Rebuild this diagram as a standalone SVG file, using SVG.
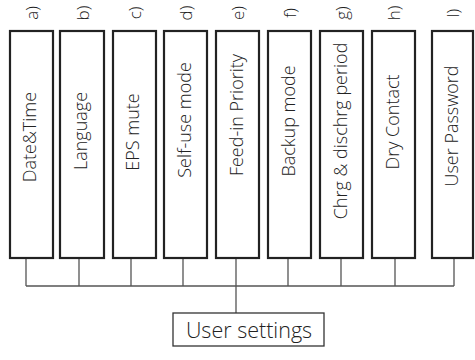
<svg xmlns="http://www.w3.org/2000/svg" width="475" height="360" viewBox="0 0 475 360">
<style>
.box{fill:#fff;stroke:#222;stroke-width:2.2}
.lbl{font-family:"Open Sans","Liberation Sans",sans-serif;font-weight:300;font-size:18px;fill:#222;text-anchor:middle;dominant-baseline:central}
.tag{font-family:"Open Sans","Liberation Sans",sans-serif;font-weight:300;font-size:17px;fill:#222;text-anchor:middle;dominant-baseline:central}
.con{fill:none;stroke:#555;stroke-width:1.3}
.root{fill:#fff;stroke:#333;stroke-width:1.3}
.rtxt{font-family:"Open Sans","Liberation Sans",sans-serif;font-weight:300;font-size:21.5px;fill:#222;text-anchor:middle;dominant-baseline:central}
</style>
<rect width="475" height="360" fill="#fff"/>
<g id="connectors">
<path class="con" d="M26,258V286M79,258V286M131,258V286M183,258V286M236,258V313M288,258V286M341,258V286M395,258V286M454,258V286M26,286H454"/>
</g>
<g id="node-a"><rect class="box" x="10" y="31" width="43" height="227"/><text class="lbl" transform="translate(29,137) rotate(-90)">Date&amp;Time</text><text class="tag" transform="translate(31,13) rotate(-90)">a)</text></g>
<g id="node-b"><rect class="box" x="60" y="31" width="44" height="227"/><text class="lbl" transform="translate(80,131) rotate(-90)">Language</text><text class="tag" transform="translate(82,13) rotate(-90)">b)</text></g>
<g id="node-c"><rect class="box" x="113" y="31" width="43" height="227"/><text class="lbl" transform="translate(132,132) rotate(-90)">EPS mute</text><text class="tag" transform="translate(134,13) rotate(-90)">c)</text></g>
<g id="node-d"><rect class="box" x="164" y="31" width="43" height="227"/><text class="lbl" transform="translate(184,120) rotate(-90)">Self-use mode</text><text class="tag" transform="translate(185,13) rotate(-90)">d)</text></g>
<g id="node-e"><rect class="box" x="216" y="31" width="43" height="227"/><text class="lbl" transform="translate(236,115) rotate(-90)">Feed-in Priority</text><text class="tag" transform="translate(237,13) rotate(-90)">e)</text></g>
<g id="node-f"><rect class="box" x="268" y="31" width="43" height="227"/><text class="lbl" transform="translate(288,121) rotate(-90)">Backup mode</text><text class="tag" transform="translate(289,13) rotate(-90)">f)</text></g>
<g id="node-g"><rect class="box" x="320" y="31" width="43" height="227"/><text class="lbl" transform="translate(340,131) rotate(-90)">Chrg &amp; dischrg period</text><text class="tag" transform="translate(341,13) rotate(-90)">g)</text></g>
<g id="node-h"><rect class="box" x="372" y="31" width="43" height="227"/><text class="lbl" transform="translate(392,122) rotate(-90)">Dry Contact</text><text class="tag" transform="translate(393,13) rotate(-90)">h)</text></g>
<g id="node-l"><rect class="box" x="432" y="31" width="41" height="227"/><text class="lbl" transform="translate(451,126) rotate(-90)">User Password</text><text class="tag" transform="translate(452,13) rotate(-90)">l)</text></g>
<g id="node-root"><rect class="root" x="173" y="313" width="151" height="33"/><text class="rtxt" x="249" y="329">User settings</text></g>
</svg>
